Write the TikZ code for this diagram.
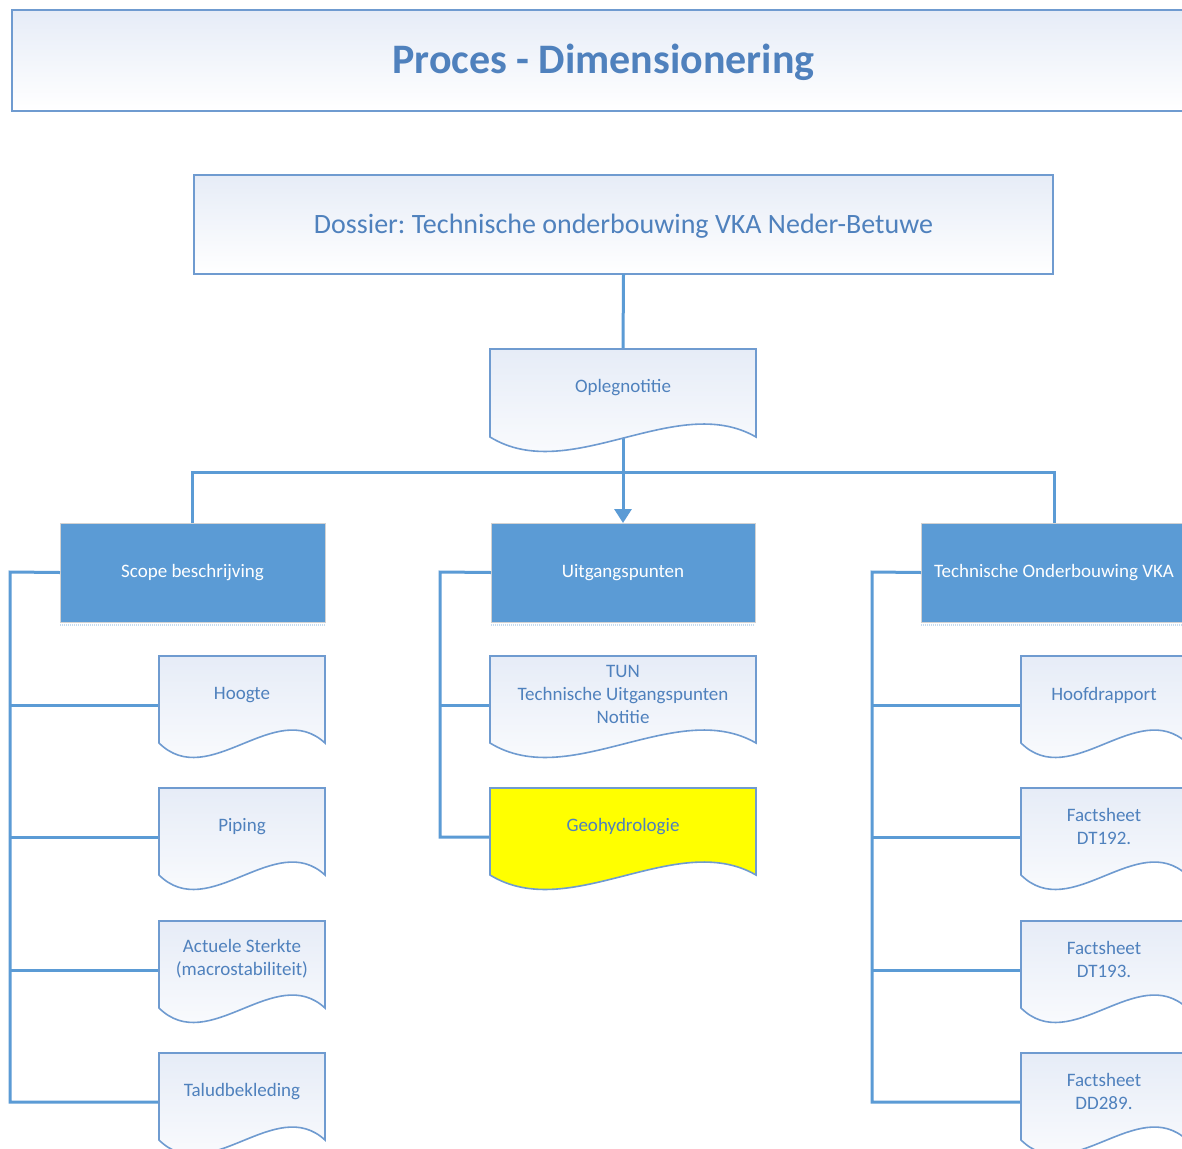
\documentclass[tikz,border=0pt]{standalone}
\usepackage{fontspec}
\setmainfont{Carlito}
\frenchspacing
\usetikzlibrary{arrows.meta,calc}
\definecolor{lineblue}{HTML}{5B9BD5}
\definecolor{edgeblue}{HTML}{6F9BD0}
\definecolor{txtblue}{HTML}{4F81BD}
\definecolor{boxblue}{HTML}{5B9BD5}
\definecolor{fadetop}{HTML}{E6ECF7}
\tikzset{
 conn/.style={draw=lineblue, line width=3pt},
 holder/.style={rectangle, inner sep=0pt, outer sep=0pt, anchor=north west},
 plainbox/.style={holder, draw=edgeblue, line width=1.5pt, top color=fadetop, bottom color=white, text=txtblue},
 docfill/.style={draw=edgeblue, line width=1.6pt, top color=fadetop, bottom color=white},
 doctext/.style={text=txtblue, font=\fontsize{19}{23}\selectfont, align=center, inner sep=0pt},
 bluebox/.style={holder, fill=boxblue, draw=gray!35, line width=0.8pt, text=white, font=\fontsize{19}{22}\selectfont},
 shadowline/.style={draw=boxblue!35, line width=2pt, dash pattern=on 1pt off 1pt},
}
\newcommand\docshape[2]{%
 \path[docfill,#2] (#1.north west) -- (#1.north east) -- ($(#1.south east)+(0,-11)$)
   .. controls ($(#1.south east)!0.3!(#1.south west)+(0,-57)$) and ($(#1.south east)!0.7!(#1.south west)+(0,38)$)
   .. ($(#1.south west)+(0,-11)$) -- cycle;}
\begin{document}
\begin{tikzpicture}[x=1pt,y=-1pt]
\clip (0,0) rectangle (1182,1148);
\fill[white] (0,0) rectangle (1182,1148);
% title and dossier
\node[plainbox, minimum width=1183pt, minimum height=101pt] (titlebox) at (12,10) {};
\node[text=txtblue, font=\bfseries\fontsize{42}{48}\selectfont, inner sep=0pt] (title) at ([yshift=-2pt]titlebox.center) {Proces - Dimensionering};
\node[plainbox, minimum width=859pt, minimum height=99pt] (dossier) at (194,175) {};
\node[text=txtblue, font=\fontsize{28}{32}\selectfont, inner sep=0pt] (dossier-t) at ([yshift=-2pt]dossier.center) {Dossier: Technische onderbouwing VKA Neder-Betuwe};
% holders for documents
\node[holder, minimum width=266pt, minimum height=99pt] (opleg) at (490,349) {};
\node[bluebox, minimum width=265pt, minimum height=99pt] (scope) at (60,523) {Scope beschrijving};
\node[bluebox, minimum width=264pt, minimum height=99pt] (uitg) at (491,523) {Uitgangspunten};
\node[bluebox, minimum width=266pt, minimum height=99pt] (tech) at (921,523) {Technische Onderbouwing VKA};
\node[holder, minimum width=166pt, minimum height=98pt] (hoogte) at (159,656) {};
\node[holder, minimum width=166pt, minimum height=98pt] (piping) at (159,788) {};
\node[holder, minimum width=166pt, minimum height=98pt] (actueel) at (159,921) {};
\node[holder, minimum width=166pt, minimum height=98pt] (talud) at (159,1053) {};
\node[holder, minimum width=266pt, minimum height=98pt] (tun) at (490,656) {};
\node[holder, minimum width=266pt, minimum height=98pt] (geo) at (490,788) {};
\node[holder, minimum width=166pt, minimum height=98pt] (hoofd) at (1021,656) {};
\node[holder, minimum width=166pt, minimum height=98pt] (dt192) at (1021,788) {};
\node[holder, minimum width=166pt, minimum height=98pt] (dt193) at (1021,921) {};
\node[holder, minimum width=166pt, minimum height=98pt] (dd289) at (1021,1053) {};
% shadows under blue boxes
\draw[shadowline] ([yshift=-3pt]scope.south west) -- ([yshift=-3pt]scope.south east);
\draw[shadowline] ([yshift=-3pt]uitg.south west) -- ([yshift=-3pt]uitg.south east);
\draw[shadowline] ([yshift=-3pt]tech.south west) -- ([yshift=-3pt]tech.south east);
% connectors
\coordinate (bus) at (623,472);
\coordinate (lt) at (10,572);
\coordinate (mt) at (440,572);
\coordinate (rt) at (872,572);
\draw[conn] (dossier.south) -- (opleg.north);
\draw[conn] (scope.north) |- (bus) -| (tech.north);
\draw[conn,-{Triangle[width=17pt,length=14pt]}] (opleg.center) -- (uitg.north);
\draw[conn] (scope.west) -- (lt) |- (talud.west);
\draw[conn] (lt |- hoogte.west) -- (hoogte.west);
\draw[conn] (lt |- piping.west) -- (piping.west);
\draw[conn] (lt |- actueel.west) -- (actueel.west);
\draw[conn] (uitg.west) -- (mt) |- (geo.west);
\draw[conn] (mt |- tun.west) -- (tun.west);
\draw[conn] (tech.west) -- (rt) |- (dd289.west);
\draw[conn] (rt |- hoofd.west) -- (hoofd.west);
\draw[conn] (rt |- dt192.west) -- (dt192.west);
\draw[conn] (rt |- dt193.west) -- (dt193.west);
% document shapes
\docshape{opleg}{}
\docshape{hoogte}{}
\docshape{piping}{}
\docshape{actueel}{}
\docshape{talud}{}
\docshape{tun}{}
\docshape{geo}{top color=yellow, bottom color=yellow}
\docshape{hoofd}{}
\docshape{dt192}{}
\docshape{dt193}{}
\docshape{dd289}{}
% texts
\node[doctext] (opleg-t) at ([yshift=11pt]opleg.center) {Oplegnotitie};
\node[doctext] (hoogte-t) at ([yshift=10pt]hoogte.center) {Hoogte};
\node[doctext] (piping-t) at ([yshift=10pt]piping.center) {Piping};
\node[doctext] (actueel-t) at ([yshift=11pt]actueel.center) {Actuele Sterkte\\(macrostabiliteit)};
\node[doctext] (talud-t) at ([yshift=10pt]talud.center) {Taludbekleding};
\node[doctext] (tun-t) at ([yshift=11pt]tun.center) {TUN\\Technische Uitgangspunten\\Notitie};
\node[doctext] (geo-t) at ([yshift=10pt]geo.center) {Geohydrologie};
\node[doctext] (hoofd-t) at ([yshift=10pt]hoofd.center) {Hoofdrapport};
\node[doctext] (dt192-t) at ([yshift=11pt]dt192.center) {Factsheet\\DT192.};
\node[doctext] (dt193-t) at ([yshift=11pt]dt193.center) {Factsheet\\DT193.};
\node[doctext] (dd289-t) at ([yshift=11pt]dd289.center) {Factsheet\\DD289.};
\end{tikzpicture}
\end{document}
